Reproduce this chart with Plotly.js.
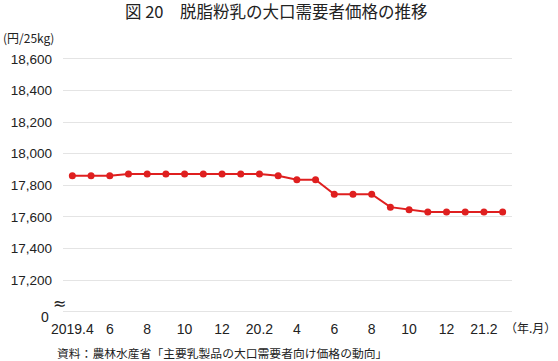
<!DOCTYPE html>
<html>
<head>
<meta charset="utf-8">
<script src="https://cdn.plot.ly/plotly-3.0.1.min.js"></script>
<style>
html,body{margin:0;padding:0;background:#fff;}
#chart{width:558px;height:361px;}
</style>
</head>
<body>
<div id="chart"></div>
<script>
// Months (categories), 2019.4 – 2021.3
const months = ["2019.4","2019.5","2019.6","2019.7","2019.8","2019.9","2019.10","2019.11","2019.12",
  "2020.1","2020.2","2020.3","2020.4","2020.5","2020.6","2020.7","2020.8","2020.9","2020.10","2020.11","2020.12",
  "2021.1","2021.2","2021.3"];
// Price (yen / 25kg)
const prices = [17861,17861,17861,17872,17872,17872,17872,17872,17872,17872,17872,17860,
  17835,17835,17744,17744,17744,17662,17646,17631,17631,17631,17631,17631];
// X tick labels (every second month)
const xTickLabels = ["2019.4","6","8","10","12","20.2","4","6","8","10","12","21.2"];
// Y ticks (bottom tick is the broken-axis "0")
const yTickVals = [17000,17200,17400,17600,17800,18000,18200,18400,18600];
const yTickText = ["","17,200","17,400","17,600","17,800","18,000","18,200","18,400","18,600"];

const xTickVals = months.filter((m, i) => i % 2 === 0);

const fontJP = '"Noto Sans CJK JP", "Noto Sans", sans-serif';
const fontNum = '"Liberation Sans", Arial, sans-serif';

const trace = {
  type: 'scatter',
  mode: 'lines+markers',
  x: months,
  y: prices,
  line: {color: '#df1f1f', width: 2},
  marker: {color: '#df1f1f', size: 7},
  hoverinfo: 'x+y'
};

const layout = {
  width: 558,
  height: 361,
  paper_bgcolor: '#ffffff',
  plot_bgcolor: '#ffffff',
  margin: {l: 63, r: 46, t: 43, b: 46},
  showlegend: false,
  title: {
    text: '図 20\u3000脱脂粉乳の大口需要者価格の推移',
    font: {family: fontJP, size: 16.5, color: '#222222'},
    x: 0.495, xanchor: 'center',
    y: 1 - 12/361, yanchor: 'middle', yref: 'container'
  },
  xaxis: {
    type: 'category',
    range: [-0.5, months.length - 0.5],
    tickmode: 'array',
    tickvals: xTickVals,
    ticktext: xTickLabels,
    ticks: '',
    showgrid: false,
    zeroline: false,
    showline: false,
    ticklabelstandoff: 4,
    tickfont: {family: fontNum, size: 14, color: '#222222'},
    fixedrange: true
  },
  yaxis: {
    range: [16980, 18700],
    tickmode: 'array',
    tickvals: yTickVals,
    ticktext: yTickText,
    ticks: '',
    showgrid: true,
    gridcolor: '#e4e4e4',
    gridwidth: 1,
    zeroline: false,
    showline: false,
    ticklabelstandoff: 10,
    tickfont: {family: fontNum, size: 13.5, color: '#222222'},
    fixedrange: true
  },
  annotations: [
    {text: '(円/25kg)', xref: 'paper', yref: 'paper', x: -62/449, y: 1 + (43-37)/272.3,
     xanchor: 'left', yanchor: 'middle', showarrow: false,
     font: {family: fontJP, size: 12, color: '#222222'}},
    {text: '0', xref: 'paper', yref: 'y', x: -(63-45)/449, y: 17000, yshift: -5.5,
     xanchor: 'center', yanchor: 'middle', showarrow: false,
     font: {family: fontNum, size: 14, color: '#222222'}},
    {text: '≈', xref: 'paper', yref: 'y', x: -(63-59)/449, y: 17000, yshift: 8,
     xanchor: 'center', yanchor: 'middle', showarrow: false,
     font: {family: '"DejaVu Sans", sans-serif', size: 16, color: '#222222'}},
    {text: '（年.月）', xref: 'paper', yref: 'paper', x: (503-63)/449, y: -(328-315.3)/272.3,
     xanchor: 'left', yanchor: 'middle', showarrow: false,
     font: {family: fontJP, size: 12, color: '#222222'}},
    {text: '資料：農林水産省「主要乳製品の大口需要者向け価格の動向」', xref: 'paper', yref: 'paper',
     x: (55-63)/449, y: -(353-315.3)/272.3,
     xanchor: 'left', yanchor: 'middle', showarrow: false,
     font: {family: fontJP, size: 11.8, color: '#222222'}}
  ]
};

Plotly.newPlot('chart', [trace], layout, {displayModeBar: false, staticPlot: true});
</script>
</body>
</html>
